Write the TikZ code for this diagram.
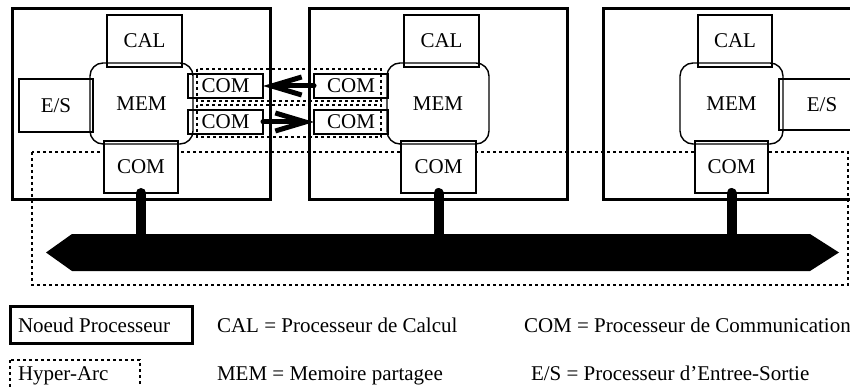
\documentclass[tikz,border=0pt]{standalone}
\usepackage{fontspec}
\setmainfont{Liberation Serif}
\usetikzlibrary{arrows.meta}
\begin{document}
\begin{tikzpicture}[x=1pt,y=-1pt,
  every node/.style={font=\fontsize{21}{25}\selectfont, inner sep=0pt, outer sep=0pt},
  frame/.style={draw, line width=3pt},
  unit/.style={draw, line width=1.4pt},
  unitw/.style={draw, line width=1.4pt, fill=white},
  memstyle/.style={draw, line width=1.4pt, rounded corners=13pt},
  hyper/.style={draw, line width=1.6pt, dash pattern=on 3pt off 3pt},
  stub/.style={line width=10pt, line cap=round},
  msg/.style={line width=5pt, line cap=round, -{Straight Barb[length=30pt,width=18pt]}},
  sz/.style 2 args={minimum width=#1pt, minimum height=#2pt},
]
\useasboundingbox (0,0) rectangle (850,387);
\fill[white] (0,0) rectangle (850,387);
\clip (0,0) rectangle (850,387);

% processor node frames
\draw[frame] (12,9) rectangle (270,200);
\draw[frame] (309,9) rectangle (567,200);
\draw[frame] (603,9) rectangle (900,200);

% bus hyper-arc
\draw[hyper] (32,152) rectangle (848,285);

% bottom COM units
\node[unitw, sz={74}{52}] (comC1) at (141,167) {COM};
\node[unitw, sz={75}{52}] (comC2) at (438.5,167) {COM};
\node[unitw, sz={73}{52}] (comC3) at (731.5,167) {COM};

% memories
\node[memstyle, sz={103}{81}] (mem1) at (141.5,103.5) {MEM};
\node[memstyle, sz={102}{81}] (mem2) at (438,103.5) {MEM};
\node[memstyle, sz={103}{81}] (mem3) at (731.5,103.5) {MEM};

% calculators
\node[unit, sz={75}{52}] (cal1) at (144.5,41) {CAL};
\node[unit, sz={75}{52}] (cal2) at (441.5,41) {CAL};
\node[unit, sz={74}{52}] (cal3) at (735,41) {CAL};

% I/O
\node[unit, sz={74}{53}] (es1) at (56,105.5) {E/S};
\node[unit, sz={86}{51}] (es3) at (822,104.5) {E/S};

% side COM units
\node[unit, sz={75}{24}] (comA1) at (225.5,86) {COM};
\node[unit, sz={75}{24}] (comB1) at (225.5,122) {COM};
\node[unit, sz={74}{24}] (comA2) at (351,86) {COM};
\node[unit, sz={74}{24}] (comB2) at (351,122) {COM};

% point-to-point hyper-arcs
\draw[hyper] (197,69) rectangle (381,101);
\draw[hyper] (197,105) rectangle (381,137);

% bus
\coordinate (bustop) at (0,240);
\draw[stub] (comC1.south) -- (comC1.south |- bustop);
\draw[stub] (comC2.south) -- (comC2.south |- bustop);
\draw[stub] (comC3.south) -- (comC3.south |- bustop);
\fill (46,252.5) -- (72,234) -- (810,234) -- (839,252.5) -- (810,271) -- (72,271) -- cycle;

% messages
\draw[msg] (comA2.west) -- (comA1.east);
\draw[msg] (comB1.east) -- (comB2.west);

% legend
\draw[frame] (10,306) rectangle (192,343);
\draw[hyper] (10,360) rectangle (140,400);
\node[anchor=base west] (lgN) at (18,332) {Noeud Processeur};
\node[anchor=base west] (lgH) at (18,380) {Hyper-Arc};
\node[anchor=base west] (lgCAL) at (217,332) {CAL = Processeur de Calcul};
\node[anchor=base west] (lgMEM) at (217,380) {MEM = Memoire partagee};
\node[anchor=base west] (lgCOM) at (524,332) {COM = Processeur de Communication};
\node[anchor=base west] (lgES) at (531,380) {E/S = Processeur d’Entree-Sortie};
\end{tikzpicture}
\end{document}
